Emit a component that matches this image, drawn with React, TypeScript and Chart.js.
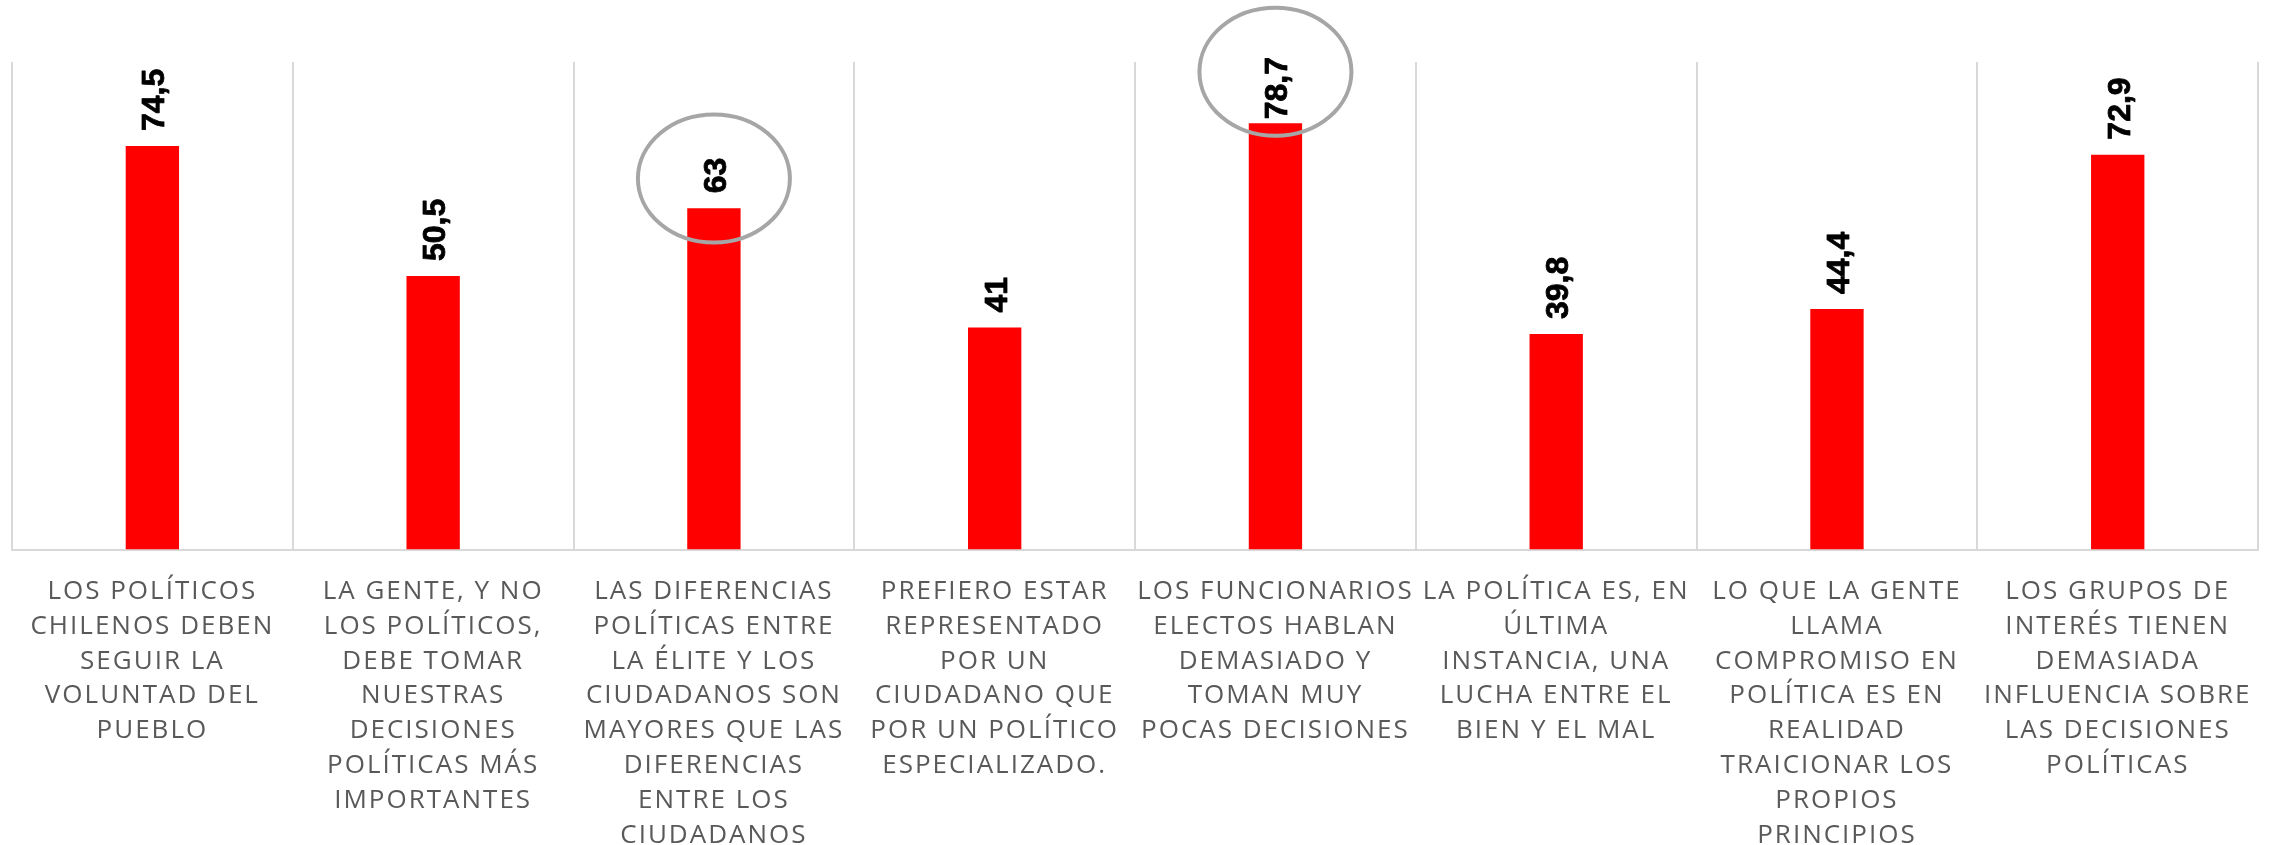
import React, { useEffect, useRef } from "react";
import { Chart, registerables } from "chart.js";

Chart.register(...registerables);

const categories: string[][] = [
  ["LOS POLÍTICOS", "CHILENOS DEBEN", "SEGUIR LA", "VOLUNTAD DEL", "PUEBLO"],
  ["LA GENTE, Y NO", "LOS POLÍTICOS,", "DEBE TOMAR", "NUESTRAS", "DECISIONES", "POLÍTICAS MÁS", "IMPORTANTES"],
  ["LAS DIFERENCIAS", "POLÍTICAS ENTRE", "LA ÉLITE Y LOS", "CIUDADANOS SON", "MAYORES QUE LAS", "DIFERENCIAS", "ENTRE LOS", "CIUDADANOS"],
  ["PREFIERO ESTAR", "REPRESENTADO", "POR UN", "CIUDADANO QUE", "POR UN POLÍTICO", "ESPECIALIZADO."],
  ["LOS FUNCIONARIOS", "ELECTOS HABLAN", "DEMASIADO Y", "TOMAN MUY", "POCAS DECISIONES"],
  ["LA POLÍTICA ES, EN", "ÚLTIMA", "INSTANCIA, UNA", "LUCHA ENTRE EL", "BIEN Y EL MAL"],
  ["LO QUE LA GENTE", "LLAMA", "COMPROMISO EN", "POLÍTICA ES EN", "REALIDAD", "TRAICIONAR LOS", "PROPIOS", "PRINCIPIOS"],
  ["LOS GRUPOS DE", "INTERÉS TIENEN", "DEMASIADA", "INFLUENCIA SOBRE", "LAS DECISIONES", "POLÍTICAS"],
];

const values: number[] = [74.5, 50.5, 63, 41, 78.7, 39.8, 44.4, 72.9];

// highlighted categories (grey ellipse), centre given in category index + value units
const highlightIndex: number[] = [2, 4];
const highlightValue: number[] = [68.5, 88.2];

const Y_MAX = 90;

const formatValue = (v: number) => String(v).replace(".", ",");

const spacingPlugin = {
  id: "tickSpacing",
  beforeLayout(chart: any) {
    chart.ctx.letterSpacing = "2px";
  },
  beforeDraw(chart: any) {
    chart.ctx.letterSpacing = "2px";
  },
};

const labelPlugin = {
  id: "valueLabels",
  afterDatasetsDraw(chart: any) {
    const ctx = chart.ctx;
    const meta = chart.getDatasetMeta(0);
    const xScale = chart.scales.x;
    const yScale = chart.scales.y;
    ctx.save();
    ctx.letterSpacing = "0px";
    ctx.font = 'bold 32px "Liberation Sans", Arial, sans-serif';
    ctx.fillStyle = "#000000";
    ctx.strokeStyle = "#000000";
    ctx.lineWidth = 0.8;
    ctx.lineJoin = "round";
    ctx.textAlign = "left";
    ctx.textBaseline = "alphabetic";
    meta.data.forEach((bar: any, i: number) => {
      const text = formatValue(values[i]);
      const w = ctx.measureText(text).width;
      let bottom = bar.y - 15;
      const minTop = 57;
      if (bottom - w < minTop) bottom = minTop + w;
      ctx.save();
      ctx.translate(bar.x, bottom);
      ctx.rotate(-Math.PI / 2);
      ctx.fillText(text, 0, 12);
      ctx.strokeText(text, 0, 12);
      ctx.restore();
    });
    ctx.strokeStyle = "#A6A6A6";
    ctx.lineWidth = 4;
    highlightIndex.forEach((idx, k) => {
      const cx = xScale.getPixelForValue(idx);
      const cy = yScale.getPixelForValue(highlightValue[k]);
      ctx.beginPath();
      ctx.ellipse(cx, cy, 76, 64, 0, 0, Math.PI * 2);
      ctx.stroke();
    });
    ctx.restore();
  },
};

export default function App() {
  const canvasRef = useRef<HTMLCanvasElement | null>(null);

  useEffect(() => {
    if (!canvasRef.current) return;
    const chart = new Chart(canvasRef.current, {
      type: "bar",
      data: {
        labels: categories,
        datasets: [
          {
            data: values,
            backgroundColor: "#FF0000",
            borderWidth: 0,
            barPercentage: 0.19,
            categoryPercentage: 1,
          },
        ],
      },
      options: {
        animation: false,
        responsive: true,
        maintainAspectRatio: false,
        layout: { padding: { left: 12, right: 17, top: 62, bottom: -32 } },
        plugins: {
          legend: { display: false },
          tooltip: { enabled: false },
          title: { display: false },
        },
        scales: {
          x: {
            grid: {
              display: true,
              offset: true,
              color: "#D9D9D9",
              lineWidth: 2,
              drawTicks: false,
            },
            border: { display: true, color: "#D9D9D9", width: 2 },
            ticks: {
              autoSkip: false,
              maxRotation: 0,
              minRotation: 0,
              padding: 24.5,
              color: "#595959",
              font: { family: '"Open Sans", sans-serif', size: 26, lineHeight: "34.8px" },
            },
          },
          y: {
            display: false,
            min: 0,
            max: Y_MAX,
            grid: { display: false },
          },
        },
      },
      plugins: [spacingPlugin, labelPlugin],
    });
    return () => chart.destroy();
  }, []);

  return (
    <div style={{ position: "fixed", left: 0, top: 0, width: 2277, height: 845, background: "#ffffff" }}>
      <canvas ref={canvasRef} />
    </div>
  );
}
